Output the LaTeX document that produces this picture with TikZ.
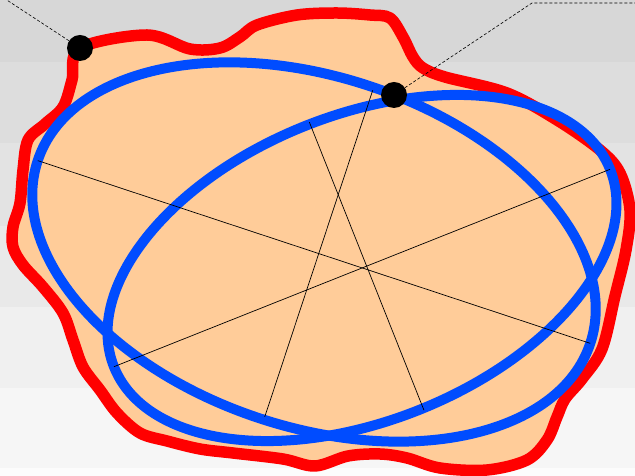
\documentclass[tikz,border=0pt]{standalone}
\definecolor{bandA}{RGB}{215,215,215}
\definecolor{bandB}{RGB}{221,221,221}
\definecolor{bandC}{RGB}{227,227,227}
\definecolor{bandD}{RGB}{233,233,233}
\definecolor{bandE}{RGB}{240,240,240}
\definecolor{bandF}{RGB}{246,246,246}
\definecolor{bandG}{RGB}{252,252,252}
\definecolor{peach}{RGB}{255,204,153}
\definecolor{ellblue}{RGB}{0,76,255}
\begin{document}
\begin{tikzpicture}[x=1pt,y=1pt,
  blob/.style={draw=red, line width=11.5pt, fill=peach, line join=round},
  ell/.style={draw=ellblue, line width=10pt},
  axisline/.style={draw=black, line width=0.7pt},
  dotnode/.style={circle, fill=black, minimum size=26pt, inner sep=0pt},
  callout/.style={draw=black, line width=0.6pt, dash pattern=on 3pt off 2pt}]
\useasboundingbox (0,0) rectangle (635,476);
\clip (0,0) rectangle (635,476);
% background bands
\fill[bandA] (0,414) rectangle (635,476);
\fill[bandB] (0,333) rectangle (635,414);
\fill[bandC] (0,250) rectangle (635,333);
\fill[bandD] (0,169) rectangle (635,250);
\fill[bandE] (0,88) rectangle (635,169);
\fill[bandF] (0,8) rectangle (635,88);
\fill[bandG] (0,0) rectangle (635,8);
% red blob
\draw[blob] plot[smooth cycle, tension=0.55] coordinates {
 (80,428) (147,441) (190,427) (220,428) (240,439) (257,451) (297,461)
 (337,463) (370,461) (390,458) (403,439) (413,419) (423,408) (445,399)
 (507,383) (557,356) (600,326) (620,303) (630,266) (626,226) (615,180)
 (602,127) (582,97) (565,77) (557,59) (547,36) (527,16) (487,6)
 (440,8) (407,18) (380,22) (348,20) (315,10) (283,17) (233,23)
 (200,27) (167,35) (140,43) (117,63) (100,86) (83,109) (73,136)
 (63,163) (43,189) (23,211) (13,229) (13,249) (20,273) (23,306)
 (28,336) (45,352) (63,369) (72,396)};
% ellipse A
\begin{scope}[shift={(314,224)}, rotate=-18.3]
  \draw[ell] (0,0) ellipse [x radius=291, y radius=175];
  \coordinate (a1) at (-291,0);
  \coordinate (a2) at (291,0);
  \coordinate (a3) at (5,172);
  \coordinate (a4) at (5,-172);
\end{scope}
% ellipse B
\begin{scope}[shift={(362,208)}, rotate=21.7]
  \draw[ell] (0,0) ellipse [x radius=267, y radius=153];
  \coordinate (b1) at (-267,0);
  \coordinate (b2) at (267,0);
  \coordinate (b3) at (5,155);
  \coordinate (b4) at (5,-155);
\end{scope}
% axes
\draw[axisline] (a1) -- (a2);
\draw[axisline] (a3) -- (a4);
\draw[axisline] (b1) -- (b2);
\draw[axisline] (b3) -- (b4);
% dots and callouts
\node[dotnode] (d1) at (80,428) {};
\node[dotnode] (d2) at (394,381) {};
\coordinate (c1) at (-10,487);
\coordinate (c2) at (532,473);
\coordinate (c3) at (640,473);
\draw[callout] (d1) -- (c1);
\draw[callout] (d2) -- (c2) -- (c3);
\end{tikzpicture}
\end{document}
